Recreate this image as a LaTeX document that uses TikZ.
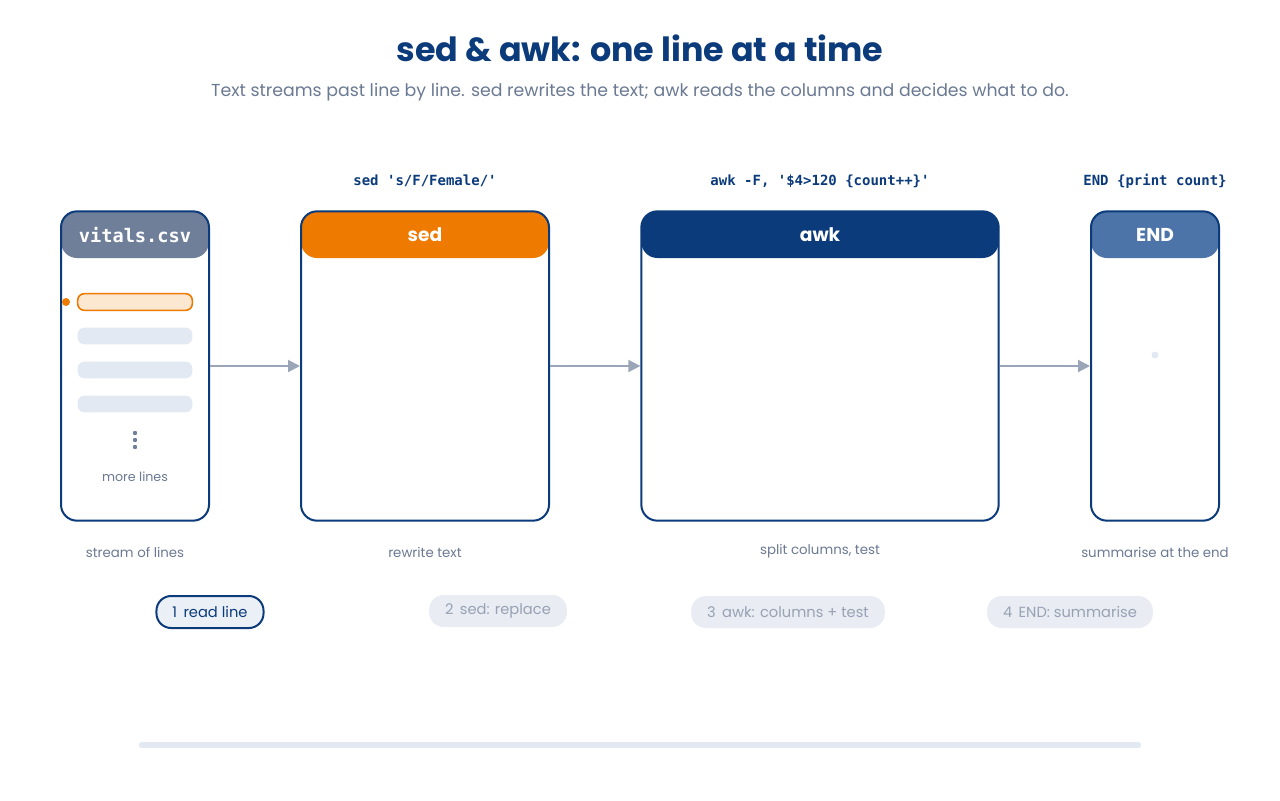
\documentclass[tikz,border=0pt]{standalone}
\usepackage{fontspec}
\setmainfont{Poppins}
\setmonofont{DejaVu Sans Mono}
\usetikzlibrary{positioning,arrows.meta}
\definecolor{navy}{HTML}{0B3B7A}
\definecolor{orng}{HTML}{EE7A00}
\definecolor{slate}{HTML}{6F7E99}
\definecolor{steel}{HTML}{4C74A8}
\definecolor{muted}{HTML}{6B7A93}
\definecolor{rowc}{HTML}{E3E9F3}
\definecolor{pillc}{HTML}{E9ECF2}
\begin{document}
\begin{tikzpicture}[x=0.75pt,y=-0.75pt]
\tikzstyle{panel}=[draw=navy, line width=1.5pt, rounded corners=12pt, fill=white, inner sep=0pt]
\tikzstyle{head}=[text=white, font=\bfseries\fontsize{14}{16}\selectfont]
\tikzstyle{code}=[text=navy, font=\ttfamily\bfseries\fontsize{10.5}{12}\selectfont]
\tikzstyle{note}=[text=muted, font=\fontsize{10}{12}\selectfont]
\tikzstyle{pill}=[rounded corners=11pt, fill=pillc, text=muted!70, minimum height=24pt, inner xsep=12pt, font=\fontsize{11}{13}\selectfont]
\tikzstyle{flow}=[draw=slate!70, line width=1.5pt, -{Triangle[length=9pt,width=9pt]}]
\tikzstyle{row}=[rounded corners=5pt, fill=rowc, minimum width=86pt, minimum height=12.5pt, inner sep=0pt]
\useasboundingbox (0,0) rectangle (1280,800);
\fill[white] (0,0) rectangle (1280,800);

\node[text=navy, font=\bfseries\fontsize{25}{28}\selectfont] (title) at (640,48) {sed \& awk: one line at a time};
\node[text=muted, font=\fontsize{13}{15}\selectfont] (sub) at (640,92) {Text streams past line by line. sed rewrites the text; awk reads the columns and decides what to do.};

% panels
\node[panel, minimum width=111pt, minimum height=232pt, path picture={\fill[slate] (path picture bounding box.north west) rectangle ([yshift=-35pt]path picture bounding box.north east);}] (csv) at (135,366) {};
\node[panel, minimum width=186pt, minimum height=232pt, path picture={\fill[orng] (path picture bounding box.north west) rectangle ([yshift=-35pt]path picture bounding box.north east);}] (sed) at (425,366) {};
\node[panel, minimum width=268pt, minimum height=232pt, path picture={\fill[navy] (path picture bounding box.north west) rectangle ([yshift=-35pt]path picture bounding box.north east);}] (awk) at (820,366) {};
\node[panel, minimum width=96pt, minimum height=232pt, path picture={\fill[steel] (path picture bounding box.north west) rectangle ([yshift=-35pt]path picture bounding box.north east);}] (end) at (1155,366) {};

\node[head, font=\ttfamily\bfseries\fontsize{14}{16}\selectfont] (csvh) at (135,235) {vitals.csv};
\node[head] (sedh) at (425,235) {sed};
\node[head] (awkh) at (820,235) {awk};
\node[head] (endh) at (1155,235) {END};

% lines in the stream
\node[row, fill=orng!18, draw=orng, line width=1.2pt] (r1) at (135,302) {};
\node[row] (r2) at (135,336) {};
\node[row] (r3) at (135,370) {};
\node[row] (r4) at (135,404) {};
\fill[orng] (66,302) circle (4);
\foreach \y in {433,440,447} \fill[slate] (135,\y) circle (2.2);
\node[note, font=\fontsize{9.5}{11}\selectfont] (more) at (135,477) {more lines};
\fill[rowc] (1155,355) circle (3.5);

\draw[flow] (csv) -- (sed);
\draw[flow] (sed) -- (awk);
\draw[flow] (awk) -- (end);

\node[code] (sedc) at (425,181) {sed 's/F/Female/'};
\node[code] (awkc) at (820,181) {awk -F, '\$4>120 \{count++\}'};
\node[code] (endc) at (1155,181) {END \{print count\}};

\node[note] (c1) at (135,552) {stream of lines};
\node[note] (c2) at (425,552) {rewrite text};
\node[note] (c3) at (820,551) {split columns, test};
\node[note] (c4) at (1155,552) {summarise at the end};

\node[pill, fill=rowc!70, draw=navy, line width=1.5pt, text=navy] (s1) at (210,612) {1\, read line};
\node[pill] (s2) at (498,611) {2\, sed: replace};
\node[pill] (s3) at (788,612) {3\, awk: columns + test};
\node[pill] (s4) at (1070,612) {4\, END: summarise};

\draw[rowc, line width=5pt, line cap=round] (142,745) -- (1138,745);
\end{tikzpicture}
\end{document}
